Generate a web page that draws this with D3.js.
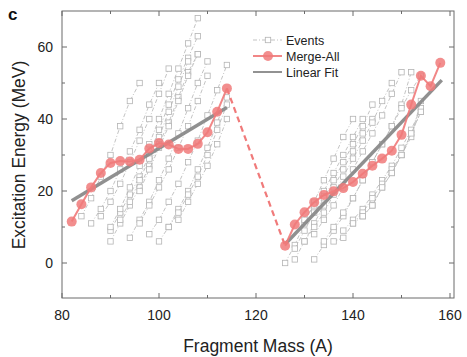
<!DOCTYPE html>
<html><head><meta charset="utf-8">
<script src="https://cdn.jsdelivr.net/npm/d3@7"></script>
<style>body{margin:0;background:#fff;} svg{display:block;font-family:Arial,"Liberation Sans",sans-serif;}</style>
</head><body><svg id="c" width="467" height="357"></svg>
<script>
// Merge-All series
const mergeLeftX = [82,84,86,88,90,92,94,96,98,100,102,104,106,108,110,112,114];
const mergeLeftY = [11.5,16.3,21,25,27.8,28.3,28.2,28.7,31.8,33.3,32.9,31.7,31.7,33.1,36.3,42,48.5];
const mergeRightX = [126,128,130,132,134,136,138,140,142,144,146,148,150,152,154,156,158];
const mergeRightY = [4.8,10.7,14.1,16.9,18.9,19.9,20.8,22.5,24.8,27,29,31.2,35.6,44,52,49.1,55.6];
// Linear fits (endpoints)
const fitLeftX = [82,114];
const fitLeftY = [17.3,43.2];
const fitRightX = [126,158.3];
const fitRightY = [5.2,50.8];
// Connector between the two groups
const connX = [114,126];
const connY = [48.5,4.8];
// Events: start mass, then energies every 2 mass units
const eventStarts = [84,86,88,90,90,90,92,94,96,96,98,100,102,104,
                     126,128,128,130,130,132,132,134,136,138,140,142];
const eventValues = [
 [13,18,24,30,38,45,50],
 [11,15,20,26,31,37,44,50],
 [13,17,22,28,34,40,47,54],
 [6,11,16,21,27,33,39,46,53,58],
 [9,14,19,24,30,37,44,51,57,63],
 [10,15,21,27,33,40,47,54,61,68],
 [12,17,23,29,35,42,49,56],
 [7,12,17,23,29,36,43,50,56],
 [11,16,21,26,32,38,45,52],
 [20,26,32,38,45,52,58],
 [8,12,17,22,28,34,41,48,55],
 [6,10,15,20,26,32,39,46],
 [10,14,19,24,30,37,44],
 [12,17,22,27,33,40],
 [0,5,11,17,23,29,35,40],
 [1,6,11,16,21,26,31,36,40],
 [4,9,14,18,23,28,33,38,44],
 [6,10,14,19,24,29,34,39,45,50],
 [12,16,20,25,30,35,40],
 [1,5,9,13,18,23,28,33,38,44,53],
 [8,12,16,21,26,31,36,41,47,53],
 [6,10,14,18,23,28,33,38,43,48,52],
 [6,7,11,13,16,21,25,30,36,42],
 [9,12,15,19,23,27,32,37,43],
 [11,14,18,22,26,30,35,45],
 [13,16,21,25,30,36,42]
];
const xTicks = [80,100,120,140,160];
const yTicks = [0,20,40,60];
const legendLabels = ["Events","Merge-All","Linear Fit"];

const svg = d3.select("#c");
const L=62,R=454,T=11,B=298;
const x = d3.scaleLinear().domain([80,160]).range([62,450]);
const y = d3.scaleLinear().domain([0,60]).range([263,47]);
const red = "#f07a7a", gray="#8a8a8a", evc="#b4b4b4";

// frame
svg.append("rect").attr("x",L).attr("y",T).attr("width",R-L).attr("height",B-T)
  .attr("fill","none").attr("stroke","#6b6b6b").attr("stroke-width",1);

// ticks (inward, all four sides)
const g = svg.append("g").attr("stroke","#6b6b6b").attr("stroke-width",1);
d3.range(80,161,10).forEach(v=>{
  const len = v%20===0?5:3, px=x(v);
  g.append("line").attr("x1",px).attr("x2",px).attr("y1",B).attr("y2",B-len);
  g.append("line").attr("x1",px).attr("x2",px).attr("y1",T).attr("y2",T+len);
});
d3.range(-10,71,10).forEach(v=>{
  const len = v%20===0?5:3, py=y(v);
  if(py<T+0.5||py>B-0.5) return;
  g.append("line").attr("x1",L).attr("x2",L+len).attr("y1",py).attr("y2",py);
  g.append("line").attr("x1",R).attr("x2",R-len).attr("y1",py).attr("y2",py);
});
xTicks.forEach(v=>svg.append("text").attr("x",x(v)).attr("y",320).attr("text-anchor","middle")
  .attr("font-size",14).attr("fill","#222").text(v));
yTicks.forEach(v=>svg.append("text").attr("x",53).attr("y",y(v)+5).attr("text-anchor","end")
  .attr("font-size",14).attr("fill","#222").text(v));

svg.append("text").attr("x",258).attr("y",352).attr("text-anchor","middle").attr("font-size",17.5)
  .attr("fill","#222").text("Fragment Mass (A)");
svg.append("text").attr("transform","translate(25,155) rotate(-90)").attr("text-anchor","middle")
  .attr("font-size",17.5).attr("fill","#222").text("Excitation Energy (MeV)");
svg.append("text").attr("x",8).attr("y",20).attr("font-size",17).attr("font-weight","bold")
  .attr("fill","#111").text("c");

const line = d3.line().x(d=>x(d[0])).y(d=>y(d[1]));
const clipArea = svg.append("g");

// events
eventStarts.forEach((s,i)=>{
  const pts = eventValues[i].map((v,j)=>[s+2*j,v]);
  clipArea.append("path").attr("d",line(pts)).attr("fill","none").attr("stroke",evc)
    .attr("stroke-width",0.8).attr("stroke-dasharray","4,2,1,2");
  pts.forEach(p=>clipArea.append("rect").attr("x",x(p[0])-2.7).attr("y",y(p[1])-2.7)
    .attr("width",5.4).attr("height",5.4).attr("fill","#fff").attr("stroke",evc).attr("stroke-width",0.8));
});

// fits
[[fitLeftX,fitLeftY],[fitRightX,fitRightY]].forEach(([fx,fy])=>{
  clipArea.append("path").attr("d",line(fx.map((v,i)=>[v,fy[i]]))).attr("stroke",gray)
    .attr("stroke-width",3.5).attr("fill","none").attr("opacity",0.95);
});

// connector
clipArea.append("path").attr("d",line(connX.map((v,i)=>[v,connY[i]]))).attr("stroke",red)
  .attr("stroke-width",2.2).attr("stroke-dasharray","6,4").attr("fill","none");

// merge-all
[[mergeLeftX,mergeLeftY],[mergeRightX,mergeRightY]].forEach(([mx,my])=>{
  const pts = mx.map((v,i)=>[v,my[i]]);
  clipArea.append("path").attr("d",line(pts)).attr("stroke",red).attr("stroke-width",2)
    .attr("fill","none").attr("opacity",0.9);
  pts.forEach(p=>clipArea.append("circle").attr("cx",x(p[0])).attr("cy",y(p[1])).attr("r",5)
    .attr("fill",red).attr("fill-opacity",0.85));
});

// legend
const lg = svg.append("g");
const ly = [40,56,72];
lg.append("line").attr("x1",253).attr("x2",282).attr("y1",ly[0]).attr("y2",ly[0])
  .attr("stroke",evc).attr("stroke-width",0.8).attr("stroke-dasharray","4,2,1,2");
lg.append("rect").attr("x",268-2.7).attr("y",ly[0]-2.7).attr("width",5.4).attr("height",5.4)
  .attr("fill","#fff").attr("stroke",evc).attr("stroke-width",0.8);
lg.append("line").attr("x1",253).attr("x2",282).attr("y1",ly[1]).attr("y2",ly[1])
  .attr("stroke",red).attr("stroke-width",2).attr("opacity",0.9);
lg.append("circle").attr("cx",268).attr("cy",ly[1]).attr("r",5).attr("fill",red).attr("fill-opacity",0.85);
lg.append("line").attr("x1",253).attr("x2",282).attr("y1",ly[2]).attr("y2",ly[2])
  .attr("stroke","#6e6e6e").attr("stroke-width",1.5);
legendLabels.forEach((t,i)=>lg.append("text").attr("x",286).attr("y",ly[i]+4.5)
  .attr("font-size",12.5).attr("fill","#222").text(t));
</script></body></html>
